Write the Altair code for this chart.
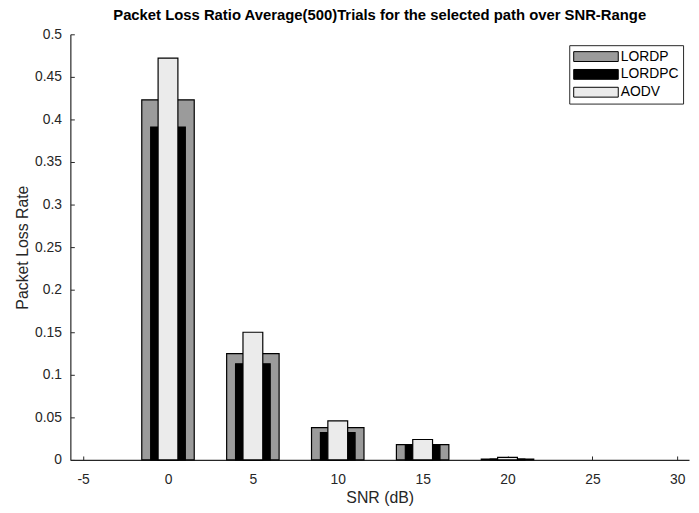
import altair as alt
import pandas as pd

snr = [0, 5, 10, 15, 20]
lordp = [0.423, 0.125, 0.038, 0.018, 0.001]
lordpc = [0.391, 0.113, 0.032, 0.018, 0.001]
aodv = [0.472, 0.150, 0.046, 0.024, 0.003]

series = ["LORDP", "LORDPC", "AODV"]
colors = ["#9b9b9b", "#000000", "#ebebeb"]
bar_px = [53, 35, 20]

rows = []
for name, vals in zip(series, [lordp, lordpc, aodv]):
    for s, v in zip(snr, vals):
        rows.append({"SNR": s, "value": v, "series": name})
df = pd.DataFrame(rows)

W, H = 625, 430
xscale = alt.Scale(domain=[-5.46, 30.4], nice=False, zero=False)
yscale = alt.Scale(domain=[0, 0.5], nice=False)
xticks = [-5, 0, 5, 10, 15, 20, 25, 30]
yticks = [0, 0.05, 0.1, 0.15, 0.2, 0.25, 0.3, 0.35, 0.4, 0.45, 0.5]

color = alt.Color(
    "series:N", scale=alt.Scale(domain=series, range=colors), sort=series,
    legend=alt.Legend(title=None, orient="none", legendX=504, legendY=11,
                      symbolType="M-1,-0.71H5.43V0.71H-1Z", symbolSize=196,
                      symbolStrokeColor="#000000", symbolStrokeWidth=1,
                      labelOffset=33, labelFontSize=14, rowPadding=3,
                      strokeColor="#262626", fillColor="#ffffff", padding=4),
)

x_main = alt.X("SNR:Q", scale=xscale,
               axis=alt.Axis(values=xticks, title="SNR (dB)", orient="bottom", tickSize=0,
                             labelPadding=13, titlePadding=3, grid=False, labelFlush=False,
                             labelExpr="'' + datum.value"))
y_main = alt.Y("value:Q", scale=yscale, stack=None,
               axis=alt.Axis(values=yticks, title="Packet Loss Rate", orient="left", tickSize=0,
                             labelPadding=9, titlePadding=4, grid=False, labelFlush=False,
                             labelExpr="'' + datum.value"))
x_none = alt.X("SNR:Q", scale=xscale, axis=None)
y_none = alt.Y("value:Q", scale=yscale, stack=None, axis=None)

layers = []
for i, (name, px) in enumerate(zip(series, bar_px)):
    layers.append(
        alt.Chart(df).transform_filter(alt.datum.series == name)
        .mark_bar(size=px, stroke="#000000", strokeWidth=1.2)
        .encode(x=x_main if i == 0 else x_none,
                y=y_main if i == 0 else y_none,
                color=color)
    )

ticks = alt.Chart(df).mark_bar(opacity=0).encode(
    x=alt.X("SNR:Q", scale=xscale,
            axis=alt.Axis(values=xticks, orient="top", offset=-H, labels=False, domain=False,
                          tickSize=4, title=None, grid=False, tickColor="#262626")),
    y=alt.Y("value:Q", scale=yscale, stack=None,
            axis=alt.Axis(values=yticks, orient="right", offset=-W, labels=False, domain=False,
                          tickSize=4, title=None, grid=False, tickColor="#262626")),
)

chart = alt.layer(*layers, ticks).resolve_axis(x="independent", y="independent").properties(
    width=W, height=H,
    title=alt.Title("Packet Loss Ratio Average(500)Trials  for the selected path over SNR-Range",
                    fontSize=15, fontWeight="bold", font="Liberation Sans", anchor="middle",
                    offset=12, dy=8, color="#000000"),
    autosize=alt.AutoSizeParams(type="none"),
    padding={"left": 63, "top": 24, "right": 2, "bottom": 48},
).configure_view(stroke=None).configure_axis(
    labelFont="Liberation Sans", titleFont="Liberation Sans", labelFontSize=14,
    titleFontSize=16, titleFontWeight="normal", labelColor="#262626", titleColor="#262626",
    domainColor="#262626", domainWidth=1.2,
).configure_legend(labelFont="Liberation Sans", labelColor="#000000")

chart.save("out.html", embed_options={"renderer": "svg", "actions": False})
